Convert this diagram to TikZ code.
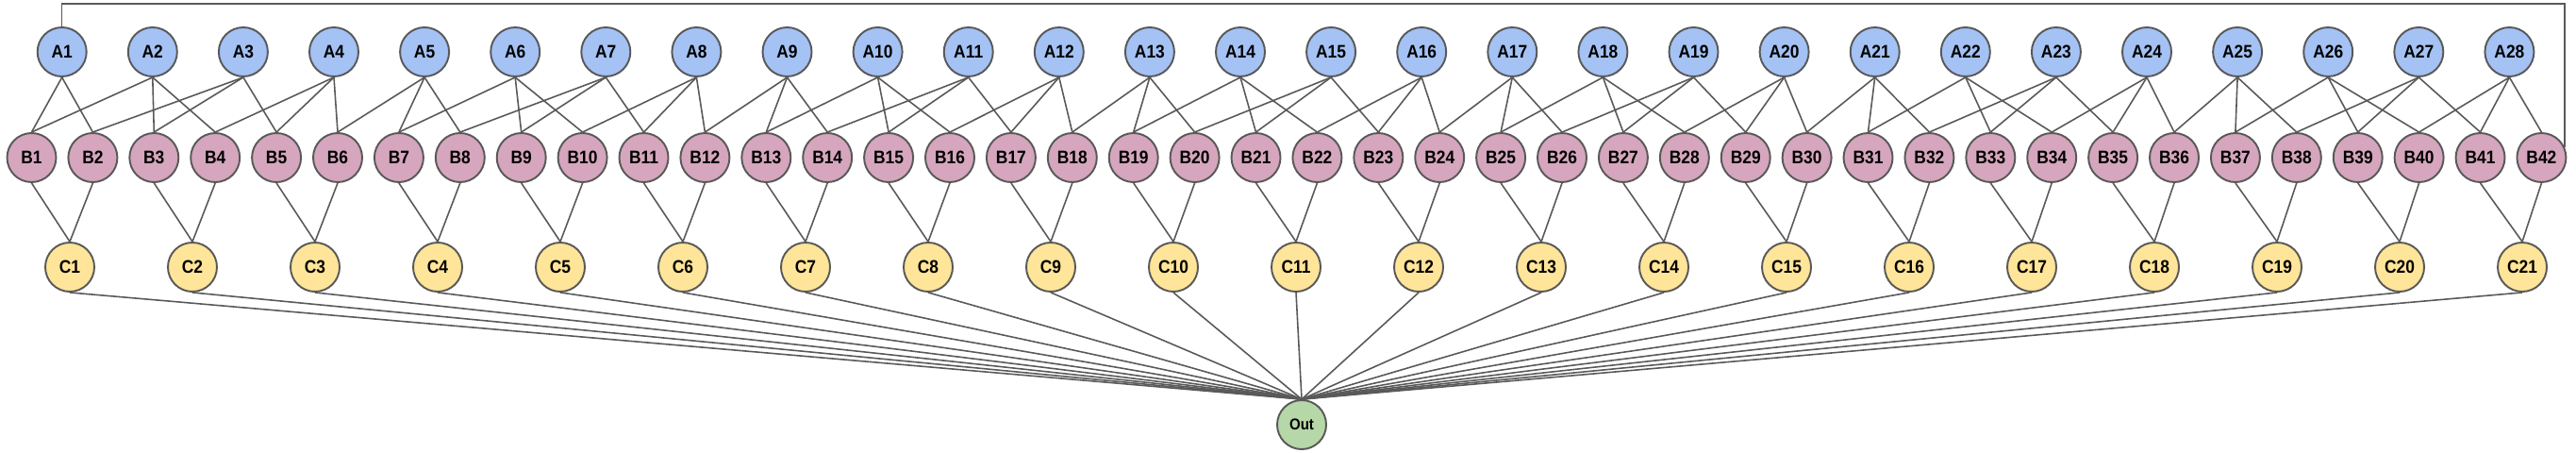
\documentclass[tikz,border=0pt]{standalone}
\usepackage{fontspec}
\setmainfont{Liberation Sans}[FakeStretch=0.9]
\usepackage{xcolor}
\usepackage{tikz}
\usetikzlibrary{arrows.meta, positioning}

\definecolor{abl}{HTML}{A4C2F4}
\definecolor{bpk}{HTML}{D5A6BD}
\definecolor{cyl}{HTML}{FFE599}
\definecolor{ogr}{HTML}{B6D7A8}
\definecolor{edgegray}{HTML}{595959}

\begin{document}
\begin{tikzpicture}[every node/.style={font=\fontsize{11}{13}\selectfont\bfseries}]

% Styles
\tikzstyle{unit} = [circle, draw=edgegray, line width=1.1pt, minimum size=1.04cm, inner sep=0pt]
\tikzstyle{anode} = [unit, fill=abl]
\tikzstyle{bnode} = [unit, fill=bpk]
\tikzstyle{cnode} = [unit, fill=cyl]
\tikzstyle{outnode} = [unit, fill=ogr, font=\fontsize{9.5}{11}\selectfont\bfseries]
\tikzstyle{line} = [draw=edgegray, line width=0.9pt]

\useasboundingbox (0,0) rectangle (54.62,-9.58);

% Nodes
\foreach \i in {1,...,28}
  \node[anode] (A\i) at ({1.314+(\i-1)*1.922}, -1.1) {A\i};
\foreach \j in {1,...,42}
  \node[bnode] (B\j) at ({0.67+(\j-1)*1.298}, -3.34) {B\j};
\foreach \k in {1,...,21}
  \node[cnode] (C\k) at ({1.48+(\k-1)*2.6}, -5.66) {C\k};
\node[outnode] (out) at (27.6, -9.0) {Out};

% Lines A -> B
\foreach \m in {0,...,6}
  \foreach \i/\d in {1/1,1/2,2/1,2/3,2/4,3/2,3/3,3/5,4/4,4/5,4/6} {
    \pgfmathtruncatemacro\ia{4*\m+\i}
    \pgfmathtruncatemacro\jb{6*\m+\d}
    \draw[line] (A\ia.south) -- (B\jb.north);
  }
\foreach \m in {1,...,6} {
  \pgfmathtruncatemacro\ia{4*\m+1}
  \pgfmathtruncatemacro\jb{6*\m}
  \draw[line] (A\ia.south) -- (B\jb.north);
}
\draw[line] (A1.north) -- ++(0,0.48) -| (B42.25);

% Lines B -> C -> Out
\foreach \k in {1,...,21} {
  \pgfmathtruncatemacro\ja{2*\k-1}
  \pgfmathtruncatemacro\jb{2*\k}
  \draw[line] (B\ja.south) -- (C\k.north);
  \draw[line] (B\jb.south) -- (C\k.north);
  \draw[line] (C\k.south) -- (out.north);
}

\end{tikzpicture}
\end{document}
